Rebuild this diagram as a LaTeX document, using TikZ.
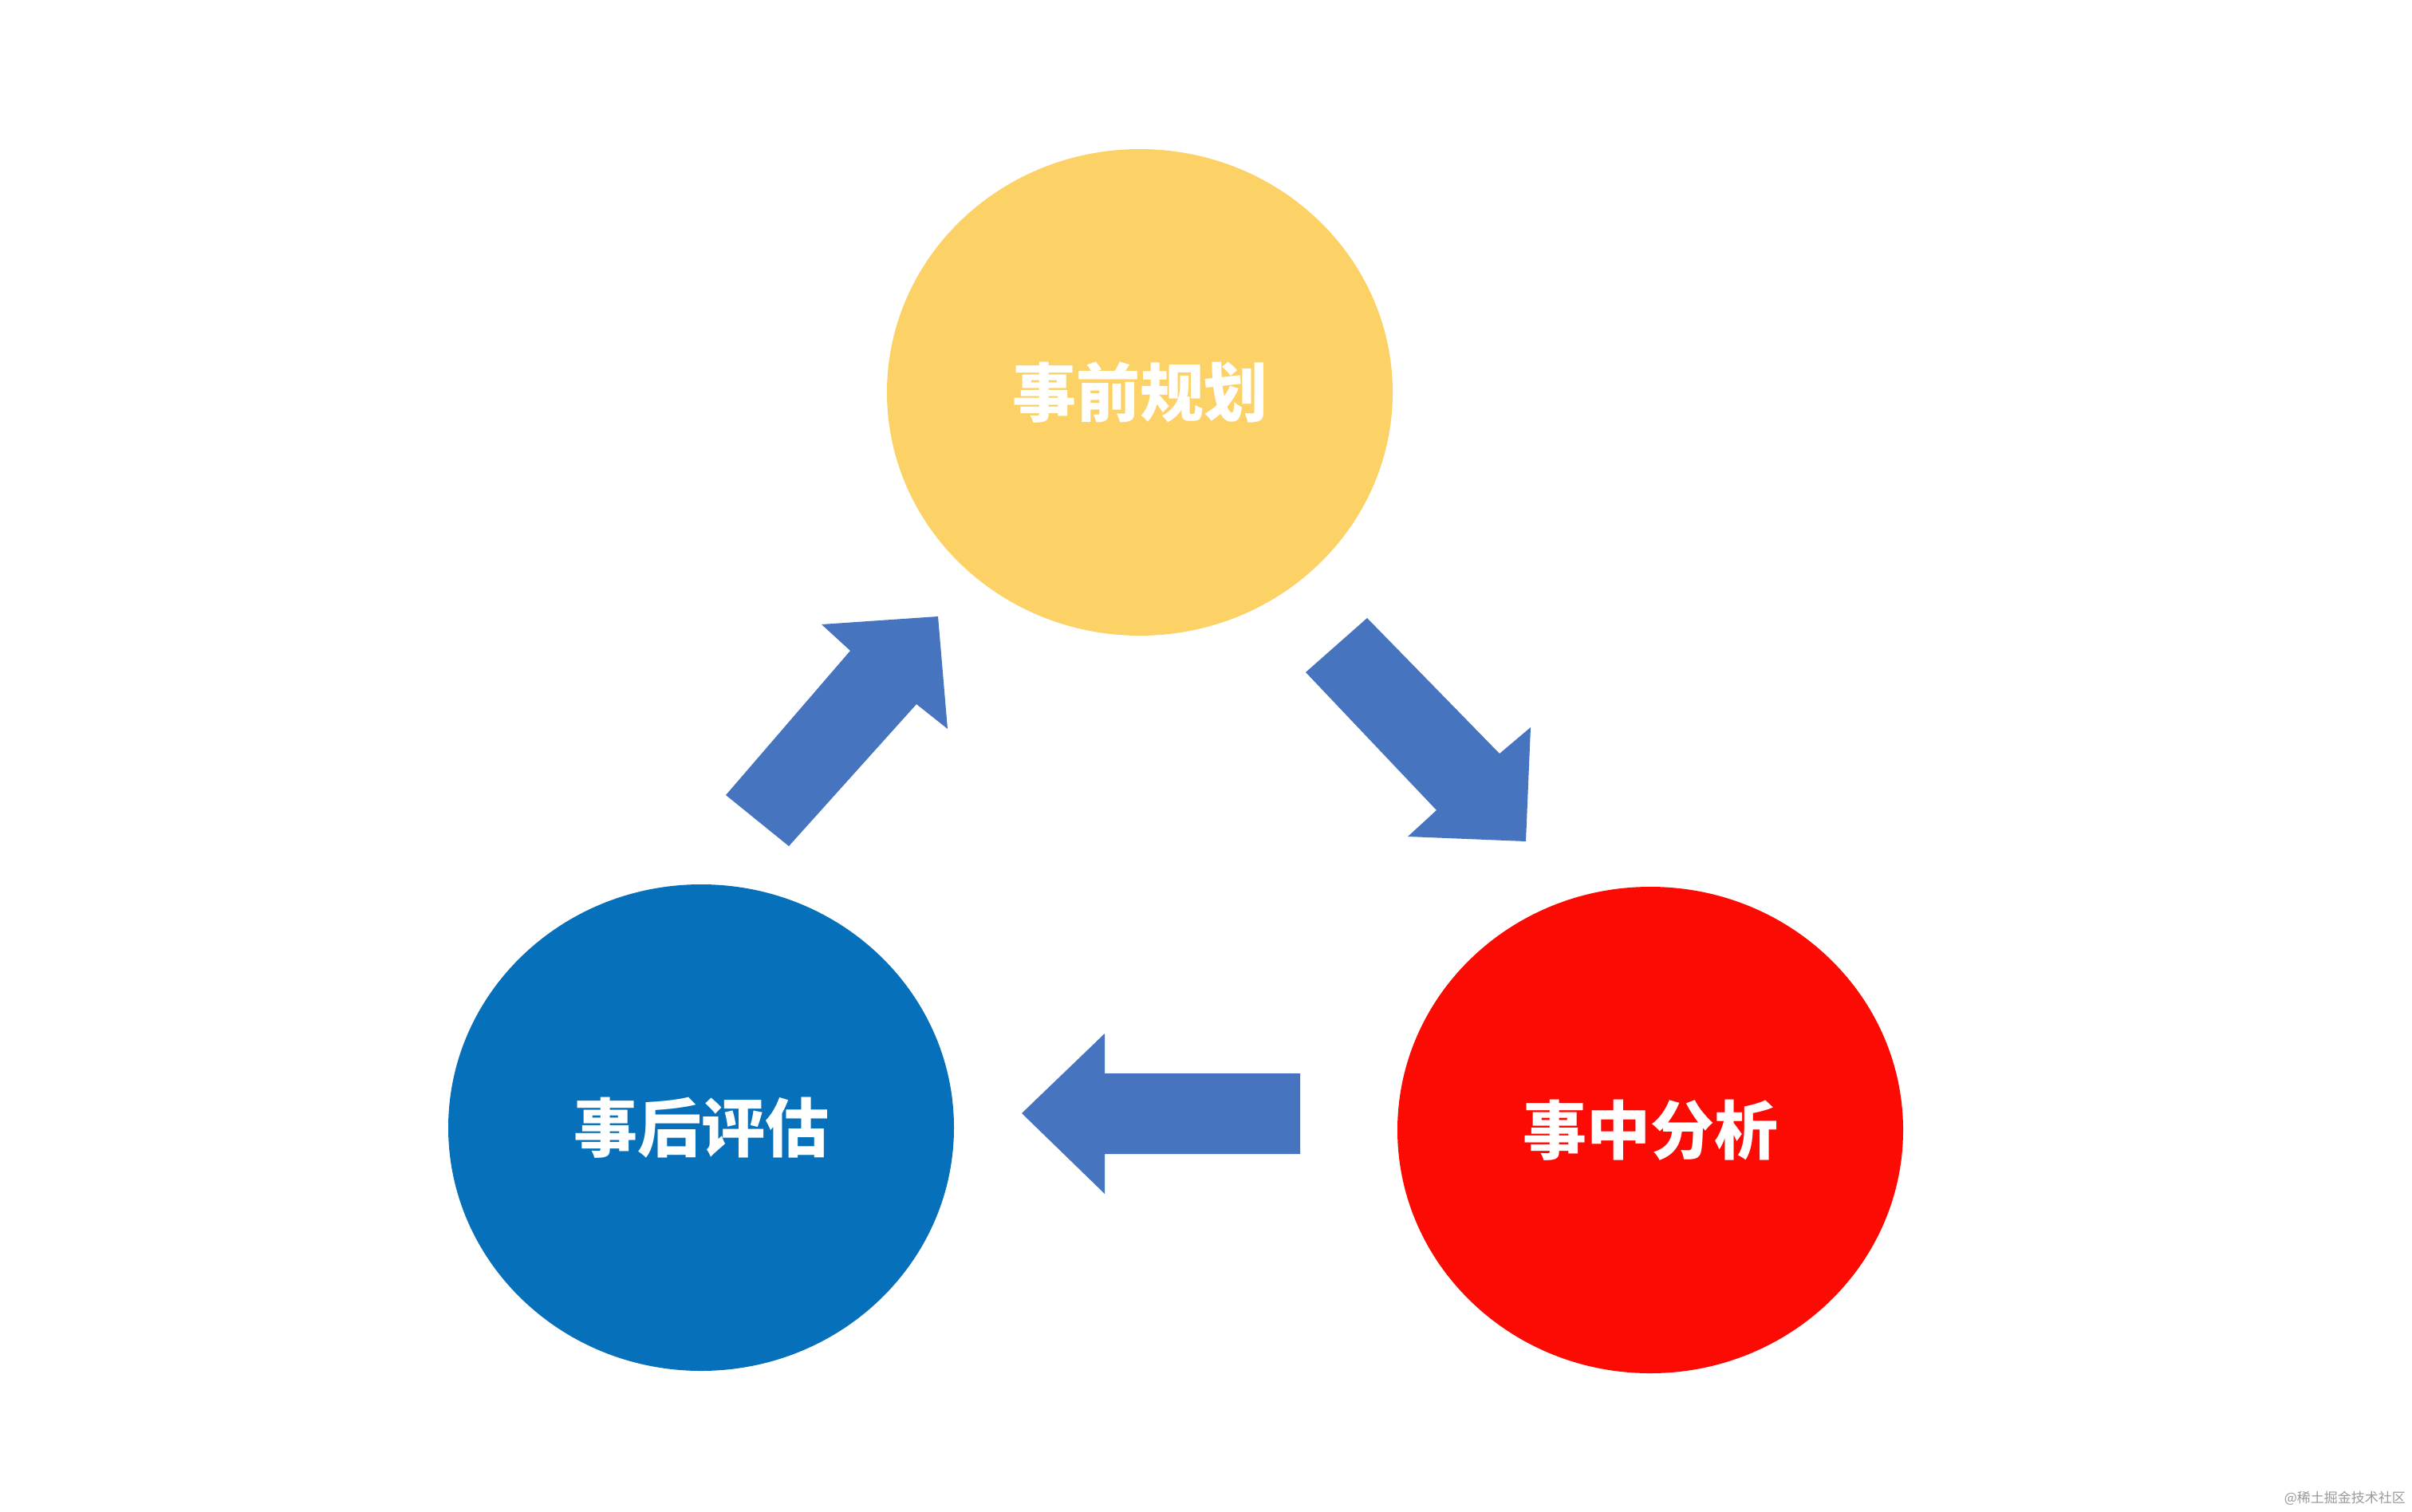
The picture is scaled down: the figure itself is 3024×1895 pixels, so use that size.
\documentclass[tikz,border=0pt]{standalone}
\usepackage{fontspec}
\newfontfamily\cjk{Noto Sans CJK SC}
\usetikzlibrary{shapes.geometric}
\definecolor{planyellow}{RGB}{252,209,102}
\definecolor{reviewblue}{RGB}{6,112,186}
\definecolor{analysisred}{RGB}{252,10,4}
\definecolor{arrowblue}{RGB}{71,116,190}
\tikzstyle{phase}=[ellipse, inner sep=0pt, text=white,
  minimum width=634pt, minimum height=610pt,
  font=\cjk\bfseries\fontsize{80}{80}\selectfont]
\tikzstyle{block arrow}=[fill=arrowblue]
\begin{document}
\begin{tikzpicture}[x=1pt,y=-1pt]
  \useasboundingbox[fill=white] (0,0) rectangle (3024,1895);
  % the three phases
  \node[phase, fill=planyellow] (plan) at (1429,492) {事前规划};
  \node[phase, fill=analysisred] (analysis) at (2069,1417) {事中分析};
  \node[phase, fill=reviewblue] (review) at (879,1414) {事后评估};
  % block arrows of the cycle
  \fill[block arrow] (1714,775) -- (1880,945) -- (1919,912) -- (1913,1055)
    -- (1765,1049) -- (1801,1016) -- (1637,843) -- cycle;
  \fill[block arrow] (1630,1346) -- (1385,1346) -- (1385,1296) -- (1281,1396)
    -- (1385,1497) -- (1385,1447) -- (1630,1447) -- cycle;
  \fill[block arrow] (910,997) -- (1066,816) -- (1030,783) -- (1176,773)
    -- (1188,914) -- (1149,883) -- (989,1061) -- cycle;
  \node[anchor=east, inner sep=0pt, text=black!40,
    font=\cjk\fontsize{17}{17}\selectfont] (mark) at (3016,1879) {@稀土掘金技术社区};
\end{tikzpicture}
\end{document}
